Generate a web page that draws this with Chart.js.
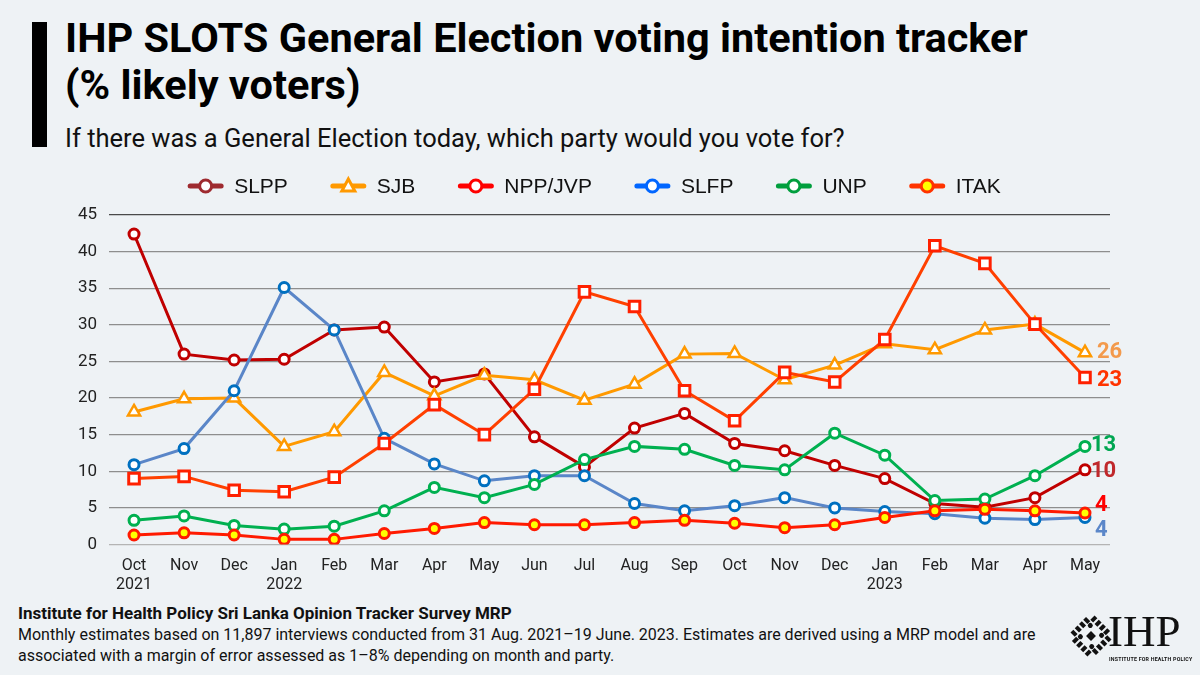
<!DOCTYPE html>
<html><head><meta charset="utf-8">
<script src="https://cdn.jsdelivr.net/npm/chart.js@4.4.0/dist/chart.umd.min.js"></script>
<style>
html,body{margin:0;padding:0;background:#eef2f5;}
#wrap{position:relative;width:1200px;height:675px;overflow:hidden;background:#eef2f5;font-family:Roboto,sans-serif;color:#000;}
#bar{position:absolute;left:32px;top:22px;width:15px;height:125px;background:#000;}
#title{position:absolute;left:65px;top:14px;font-weight:700;font-size:41.5px;line-height:47px;white-space:nowrap;}
#sub{position:absolute;left:65px;top:123px;font-size:25.5px;line-height:30px;white-space:nowrap;color:#111;}
#c{position:absolute;left:0;top:0;}
#src{position:absolute;left:18px;top:603px;font-size:16px;line-height:21px;color:#111;}
#src b{font-size:17px;}
#logo{position:absolute;left:1070px;top:605px;width:125px;height:60px;}
#ihp{position:absolute;left:38px;top:4px;font-family:"Liberation Serif",serif;font-size:45px;line-height:45px;color:#111;}
#ihps{position:absolute;left:39px;top:51px;font-size:5.3px;font-weight:700;letter-spacing:0.2px;white-space:nowrap;color:#111;}
#sym{position:absolute;left:-2px;top:8px;}
</style></head>
<body><div id="wrap">
<div id="bar"></div>
<div id="title">IHP SLOTS General Election voting intention tracker<br>(% likely voters)</div>
<div id="sub">If there was a General Election today, which party would you vote for?</div>
<canvas id="c" width="1200" height="600"></canvas>
<div id="src"><b>Institute for Health Policy Sri Lanka Opinion Tracker Survey MRP</b><br>Monthly estimates based on 11,897 interviews conducted from 31 Aug. 2021–19 June. 2023. Estimates are derived using a MRP model and are<br>associated with a margin of error assessed as 1–8% depending on month and party.</div>
<div id="logo"><canvas id="sym" width="46" height="46"></canvas><div id="ihp">IHP</div><div id="ihps">INSTITUTE FOR HEALTH POLICY</div></div>
</div>
<script>
const months = ['Oct','Nov','Dec','Jan','Feb','Mar','Apr','May','Jun','Jul','Aug','Sep','Oct','Nov','Dec','Jan','Feb','Mar','Apr','May'];
const years  = ['2021','','','2022','','','','','','','','','','','','2023','','','',''];
const parties = ['SLPP','SJB','NPP/JVP','SLFP','UNP','ITAK'];
const slpp = [42.4,26.0,25.2,25.3,29.3,29.7,22.2,23.3,14.7,10.6,15.9,17.9,13.8,12.8,10.8,9.0,5.6,5.1,6.4,10.2];
const sjb  = [18.1,19.9,20.0,13.4,15.4,23.5,20.3,23.1,22.5,19.7,21.9,26.0,26.1,22.5,24.5,27.4,26.6,29.3,30.1,26.2];
const npp  = [9.0,9.3,7.4,7.2,9.2,13.8,19.1,15.0,21.2,34.5,32.5,21.0,16.9,23.5,22.2,28.0,40.8,38.4,30.1,22.8];
const slfp = [10.9,13.1,21.0,35.1,29.3,14.5,11.0,8.7,9.4,9.4,5.6,4.6,5.3,6.4,5.0,4.5,4.2,3.6,3.4,3.7];
const unp  = [3.3,3.9,2.6,2.1,2.5,4.6,7.8,6.4,8.2,11.6,13.4,13.0,10.8,10.2,15.2,12.2,6.0,6.2,9.4,13.4];
const itak = [1.3,1.6,1.3,0.7,0.7,1.5,2.2,3.0,2.7,2.7,3.0,3.3,2.9,2.3,2.7,3.7,4.6,4.8,4.6,4.3];
const yTicks = [0,5,10,15,20,25,30,35,40,45];

const labels = months.map((m,i)=> years[i] ? [m, years[i]] : m);

// styles (not data)
const styles = {
  SLPP:   {line:'#c00000', pb:'#c00000', pf:'#ffffff', shape:'circle',   r:5,   order:5, lab:'#c0282b', dx:6,  dy:2,
           leg:'#9e2a2f', legFill:'#ffffff', legShape:'circle'},
  SJB:    {line:'#ff9900', pb:'#ff9900', pf:'#ffffff', shape:'triangle', r:7,   order:4, lab:'#f39a4c', dx:12, dy:0,
           leg:'#ff9900', legFill:'#ffffff', legShape:'triangle'},
  'NPP/JVP':{line:'#ff4000', pb:'#ff2000', pf:'#ffffff', shape:'rect', r:7.5, order:1, lab:'#ff3300', dx:12, dy:3,
           leg:'#ff0000', legFill:'#ffffff', legShape:'circle'},
  SLFP:   {line:'#5a86c8', pb:'#0070c0', pf:'#ffffff', shape:'circle',   r:5,   order:3, lab:'#5b87c9', dx:10, dy:13,
           leg:'#0066ff', legFill:'#ffffff', legShape:'circle'},
  UNP:    {line:'#00b050', pb:'#00b050', pf:'#ffffff', shape:'circle',   r:5,   order:2, lab:'#00a651', dx:6,  dy:-1,
           leg:'#009e3d', legFill:'#ffffff', legShape:'circle'},
  ITAK:   {line:'#ff1a00', pb:'#ff1a00', pf:'#ffff00', shape:'circle',   r:5,   order:0, lab:'#ff0000', dx:10, dy:-8,
           leg:'#ff3300', legFill:'#ffff00', legShape:'circle'}
};
const series = [slpp, sjb, npp, slfp, unp, itak];

const datasets = parties.map((p,i)=>{
  const s = styles[p];
  return {
    label:p, data:series[i], order:s.order,
    borderColor:s.line, borderWidth:3, tension:0,
    pointStyle:s.shape, pointRadius:s.r, pointHoverRadius:s.r,
    pointBackgroundColor:s.pf, pointBorderColor:s.pb, pointBorderWidth:s.shape==='triangle'?2.5:3
  };
});

const legendPlugin = {
  id:'customLegend',
  afterDraw(chart){
    const ctx = chart.ctx;
    ctx.save();
    ctx.font = '21px "Liberation Sans", Arial, sans-serif';
    const iconW = 37, gapIT = 10, gapItem = 42;
    let total = 0;
    const widths = parties.map(p=>ctx.measureText(p).width);
    widths.forEach((w,i)=>{ total += iconW + gapIT + w + (i<parties.length-1?gapItem:0); });
    let x = 594 - total/2;
    const y = 186;
    parties.forEach((p,i)=>{
      const s = styles[p];
      ctx.strokeStyle = s.leg; ctx.lineWidth = 5; ctx.lineCap='round';
      ctx.beginPath(); ctx.moveTo(x+3,y); ctx.lineTo(x+iconW-3,y); ctx.stroke();
      const cx = x + iconW/2;
      ctx.fillStyle = s.legFill; ctx.lineWidth = 3;
      ctx.beginPath();
      if (s.legShape==='triangle'){
        ctx.moveTo(cx, y-7); ctx.lineTo(cx+6.5, y+5); ctx.lineTo(cx-6.5, y+5); ctx.closePath();
      } else {
        ctx.arc(cx, y, 6, 0, Math.PI*2);
      }
      ctx.fill(); ctx.stroke();
      ctx.fillStyle = '#111'; ctx.textBaseline='middle'; ctx.textAlign='left';
      ctx.fillText(p, x + iconW + gapIT, y+1);
      x += iconW + gapIT + widths[i] + gapItem;
    });
    ctx.restore();
  }
};

const endLabels = {
  id:'endLabels',
  afterDatasetsDraw(chart){
    const ctx = chart.ctx;
    ctx.save();
    ctx.font = 'bold 22px Roboto';
    ctx.textBaseline = 'middle'; ctx.textAlign = 'left';
    chart.data.datasets.forEach((ds,i)=>{
      const meta = chart.getDatasetMeta(i);
      const n = ds.data.length-1;
      const pt = meta.data[n];
      const s = styles[ds.label];
      ctx.fillStyle = s.lab;
      ctx.fillText(String(Math.round(ds.data[n])), pt.x + s.dx, pt.y + s.dy);
    });
    ctx.restore();
  }
};

new Chart(document.getElementById('c'), {
  type:'line',
  data:{labels, datasets},
  options:{
    responsive:false, animation:false, maintainAspectRatio:false,
    layout:{padding:{top:215, right:90, left:0, bottom:0}},
    plugins:{legend:{display:false}, tooltip:{enabled:false}},
    scales:{
      x:{
        offset:true,
        grid:{display:false}, border:{display:false},
        ticks:{color:'#222', font:{family:'Roboto', size:16}, padding:4, maxRotation:0, autoSkip:false},
        afterFit(s){ s.height = 55.5; }
      },
      y:{
        min:0, max:45,
        afterBuildTicks(s){ s.ticks = yTicks.map(v=>({value:v})); },
        grid:{drawTicks:false, lineWidth:1.3,
              color:(c)=> c.tick && c.tick.value===45 ? '#4a4a4a' : (c.tick && c.tick.value===0 ? '#b4b4b4' : '#8e8e8e')},
        border:{display:false},
        ticks:{color:'#222', font:{family:'Roboto', size:17}, padding:12},
        afterFit(s){ s.width = 109; }
      }
    }
  },
  plugins:[legendPlugin, endLabels]
});

// logo symbol (decorative)
(function(){
  const c = document.getElementById('sym').getContext('2d');
  c.translate(23,23);
  c.rotate(Math.PI/4);
  c.fillStyle = '#111';
  for (let k=0;k<4;k++){
    c.save(); c.rotate(k*Math.PI/2);
    for (let j=0;j<4;j++){
      c.fillRect(-12+j*6, -17, 4, 6);
    }
    c.beginPath(); c.arc(7,-8,2.5,0,Math.PI*2); c.fill();
    c.restore();
  }
  c.fillRect(-3.5,-3.5,7,7);
})();
</script>
</body></html>
